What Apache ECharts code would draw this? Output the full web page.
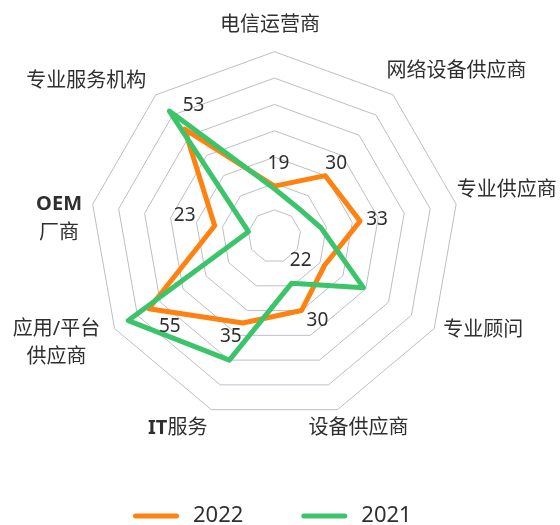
<!DOCTYPE html>
<html>
<head>
<meta charset="utf-8">
<script src="https://cdn.jsdelivr.net/npm/echarts@6/dist/echarts.min.js"></script>
<style>
  html, body { margin: 0; padding: 0; background: #fff; }
  #chart { width: 560px; height: 525px; }
</style>
</head>
<body>
<div id="chart"></div>
<script>
// clockwise from the top
const categories = ['电信运营商', '网络设备供应商', '专业供应商', '专业顾问', '设备供应商', 'IT服务', '应用/平台供应商', 'OEM厂商', '专业服务机构']
const years = ['2022', '2021']
const values2022 = [19, 30, 33, 22, 30, 35, 55, 23, 53]
const values2021 = [18, 14, 18, 39, 19, 50, 64, 10, 62]
const axisMax = 70

const ORANGE = '#ff8210'
const GREEN = '#3cc46b'
const TEXT = '#2f2f2f'
const FONT = "'Noto Sans', 'Noto Sans CJK SC', sans-serif"

// echarts lays indicators out counter-clockwise, so walk the list backwards after the first
const order = [0, 8, 7, 6, 5, 4, 3, 2, 1]

// value label offset from its vertex, per category (clockwise index)
const labelOffsets = [[4, -23], [11, -12], [17, -2], [-24, -5], [16, 10], [-12, 14], [21, 18], [-30, -10], [9, -24]]

const chart = echarts.init(document.getElementById('chart'))

const tok = (pad, extra) => Object.assign({ fontSize: 20, fontFamily: FONT, color: TEXT, padding: pad }, extra || {})

chart.setOption({
  animation: false,
  legend: {
    data: years,
    left: 133,
    top: 505,
    padding: 0,
    itemGap: 58,
    itemWidth: 46,
    itemHeight: 5,
    icon: 'path://M2.5,0H43.5A2.5,2.5,0,0,1,43.5,5H2.5A2.5,2.5,0,0,1,2.5,0Z',
    textStyle: { fontSize: 22, color: TEXT, fontFamily: FONT, padding: [0, 0, 0, 9] },
  },
  radar: {
    center: ['49%', '45%'],
    radius: '70.3%',
    startAngle: 90,
    shape: 'polygon',
    splitNumber: 7,
    nameGap: 25,
    indicator: order.map(i => ({ name: categories[i], min: 0, max: axisMax })),
    axisLine: { show: false },
    axisTick: { show: false },
    axisLabel: { show: false },
    splitArea: { show: false },
    splitLine: { lineStyle: { color: '#bdbdc7', width: 1 } },
    axisName: {
      color: TEXT,
      fontSize: 20,
      fontFamily: FONT,
      align: 'center',
      verticalAlign: 'middle',
      formatter: (name) => {
        if (name === 'IT服务') return '{itA|IT}{itB|服务}'
        if (name === 'OEM厂商') return '{oemA|OEM}\n{oemB|厂商}'
        if (name === '应用/平台供应商') return '{appA|应用/平台}\n{appB|供应商}'
        return `{n${categories.indexOf(name)}|${name}}`
      },
      rich: {
        n0: tok([0, 9, 3, 0]),
        n1: tok([0, 0, 8, 95]),
        n2: tok([0, 0, 19, 52]),
        n3: tok([0, 0, 21, 55]),
        n4: tok([0, 0, 9, 25]),
        n8: tok([12, 107, 0, 0]),
        itA: tok([0, 0, 9, 0], { fontWeight: 'bold' }),
        itB: tok([0, 50, 9, 0]),
        oemA: tok([38, 18, 9, 0], { fontWeight: 'bold' }),
        oemB: tok([0, 18, 0, 0]),
        appA: tok([5, 73, 8, 0]),
        appB: tok([0, 73, 0, 0]),
      },
    },
  },
  series: [{
    type: 'radar',
    symbol: 'circle',
    symbolSize: 2,
    label: { show: false },
    labelLayout: (p) => {
      const cx = chart.getWidth() * 0.49, cy = chart.getHeight() * 0.45
      const px = p.rect.x + p.rect.width / 2, py = p.rect.y + p.rect.height / 2
      let a = Math.atan2(px - cx, cy - py) * 180 / Math.PI
      if (a < 0) a += 360
      const o = labelOffsets[Math.round(a / 40) % 9]
      return { x: px + o[0], y: py + o[1], align: 'center', verticalAlign: 'middle' }
    },
    data: [
      {
        name: years[0],
        value: order.map(i => values2022[i]),
        itemStyle: { color: ORANGE },
        lineStyle: { color: ORANGE, width: 5 },
        label: { show: true, color: TEXT, fontSize: 19, fontFamily: FONT },
      },
      {
        name: years[1],
        value: order.map(i => values2021[i]),
        itemStyle: { color: GREEN },
        lineStyle: { color: GREEN, width: 5 },
      },
    ],
  }],
})
</script>
</body>
</html>
